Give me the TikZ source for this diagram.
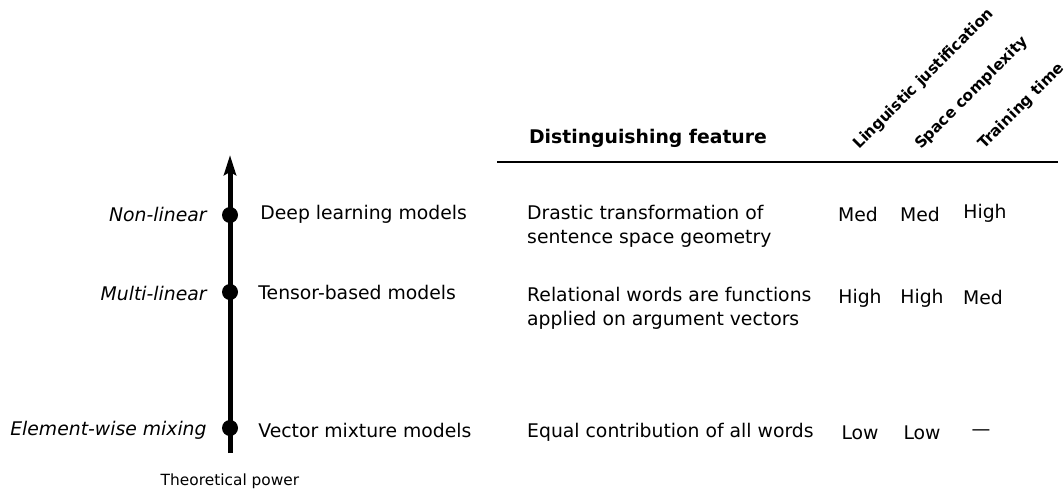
\documentclass[tikz,border=0pt]{standalone}
\usepackage{fontspec}
\setmainfont{DejaVu Sans}
\usetikzlibrary{positioning,arrows.meta}
\newcommand{\bodysize}{\fontsize{18.8}{24}\selectfont}
\newcommand{\smallsize}{\fontsize{15.4}{18}\selectfont}
\newcommand{\headsize}{\fontsize{15.3}{20}\selectfont}
\tikzset{
    point/.style={
        circle,
        fill=black,
        inner sep=0pt,
        minimum size=16pt
    },
    level/.style={
        font=\bodysize\itshape,
        anchor=east,
        inner sep=0pt
    },
    model/.style={
        font=\bodysize,
        anchor=west,
        inner sep=0pt
    },
    feature/.style={
        font=\bodysize,
        anchor=west,
        align=left,
        inner sep=0pt
    },
    rating/.style={
        font=\bodysize,
        inner sep=0pt
    },
    criterion/.style={
        font=\headsize\bfseries,
        rotate=45,
        anchor=base west,
        inner sep=0pt
    },
}

\begin{document}
\begin{tikzpicture}[x=1pt, y=-1pt, node distance = 15pt and 22pt]
    \useasboundingbox (0,0) rectangle (1064,490);

    % axis
    \coordinate (axisbottom) at (230,453);
    \coordinate (axistop) at (230,155);
    \draw[line width=5pt, -{Stealth[length=20pt,width=12pt,inset=3pt]}] (axisbottom) -- (axistop);
    \node[below=21pt of axisbottom, font=\smallsize, inner sep=0pt] (power) {Theoretical power};

    % points on the axis
    \node[point] (nonlin) at (230,215) {};
    \node[point] (multilin) at (230,292) {};
    \node[point] (elemwise) at (230,428) {};

    % levels and models
    \node[level, left=15pt of nonlin, yshift=1pt] (nonlinlabel) {Non-linear};
    \node[level, left=15pt of multilin, yshift=-1pt] (multilinlabel) {Multi-linear};
    \node[level, left=15pt of elemwise, yshift=-2pt] (elemwiselabel) {Element-wise mixing};
    \node[model, right=22pt of nonlin, yshift=1pt] (deep) {Deep learning models};
    \node[model, right=20pt of multilin] (tensor) {Tensor-based models};
    \node[model, right=20pt of elemwise, yshift=-2pt] (vector) {Vector mixture models};

    % header
    \node[font=\bodysize\bfseries, inner sep=0pt] (feathead) at (648,138) {Distinguishing feature};
    \coordinate (ruleleft) at (497,162);
    \coordinate (ruleright) at (1058,162);
    \draw[line width=1.5pt] (ruleleft) -- (ruleright);
    \node[criterion] (ling) at (859,150) {Linguistic justification};
    \node[criterion] (space) at (921,150) {Space complexity};
    \node[criterion] (train) at (984,150) {Training time};

    % features
    \node[feature] (deepfeat) at (527,226) {Drastic transformation of\\sentence space geometry};
    \node[feature] (tensorfeat) at (527,308) {Relational words are functions\\applied on argument vectors};
    \node[feature] (vectorfeat) at (527,432) {Equal contribution of all words};

    % ratings
    \node[rating] (deepling) at (858,214) {Med};
    \node[rating] (deepspace) at (920,214) {Med};
    \node[rating] (deeptrain) at (985,213) {High};
    \node[rating] (tensorling) at (860,298) {High};
    \node[rating] (tensorspace) at (922,298) {High};
    \node[rating] (tensortrain) at (983,297) {Med};
    \node[rating] (vectorling) at (860,433) {Low};
    \node[rating] (vectorspace) at (922,433) {Low};
    \node[rating] (vectortrain) at (981,433) {---};
\end{tikzpicture}
\end{document}
